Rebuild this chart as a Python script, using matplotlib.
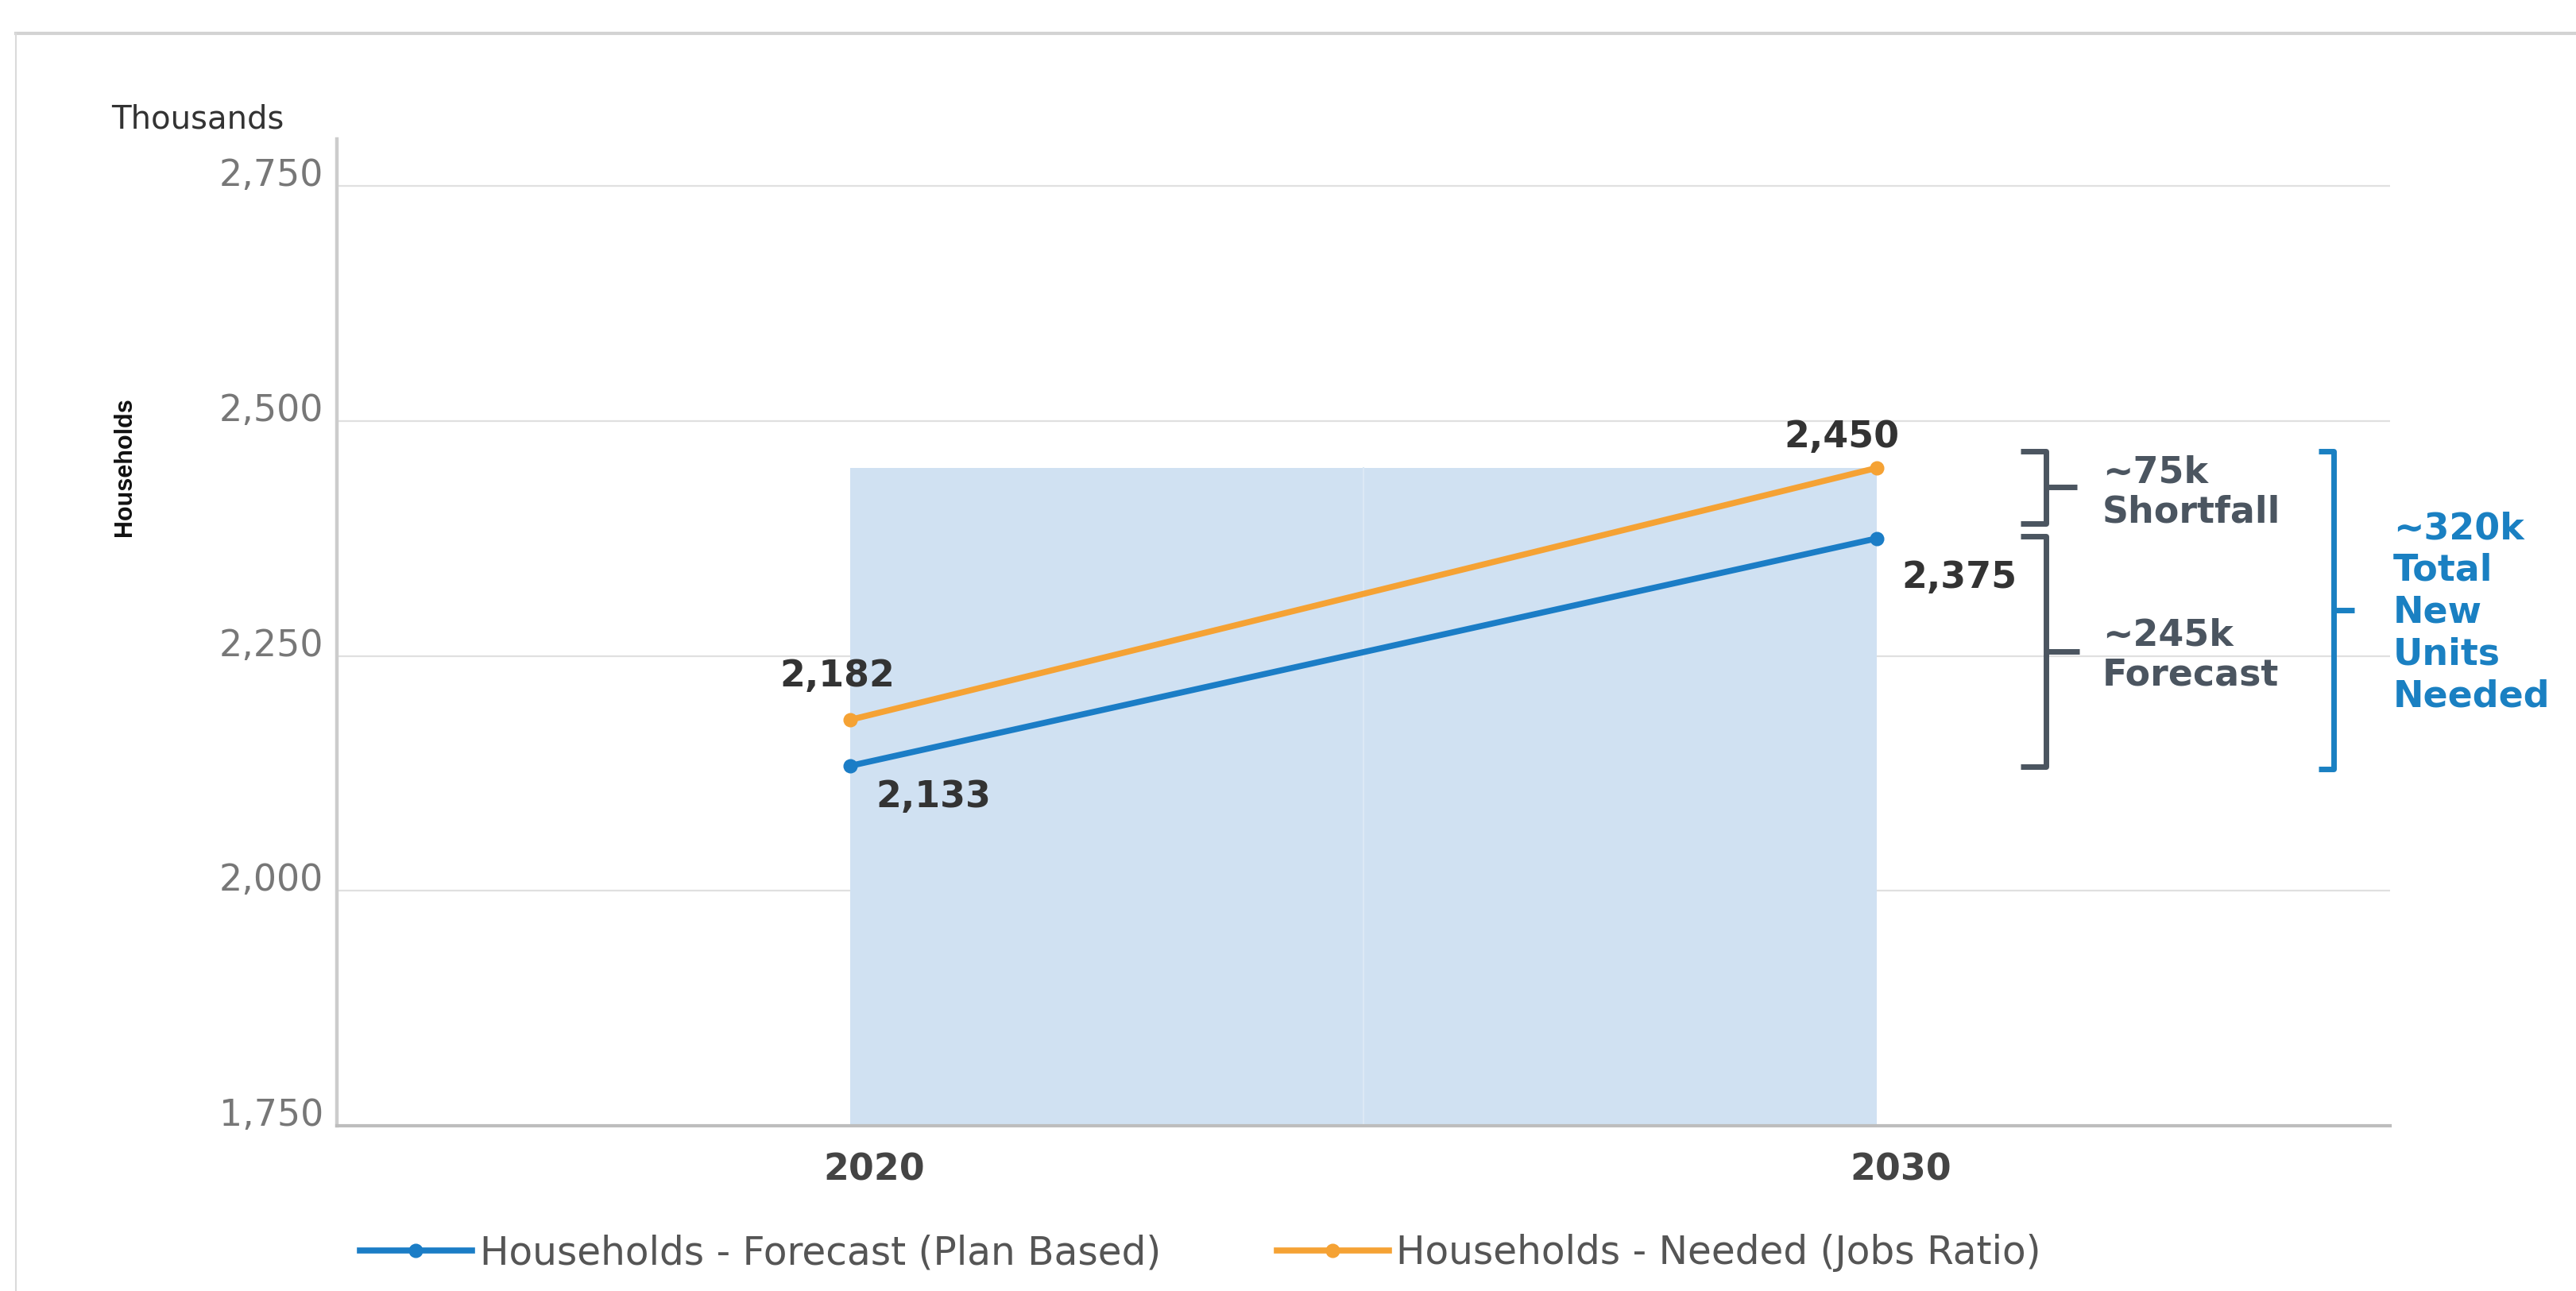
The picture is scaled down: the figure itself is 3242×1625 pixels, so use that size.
import matplotlib
matplotlib.use('Agg')
import matplotlib.pyplot as plt
from matplotlib.lines import Line2D
from matplotlib.transforms import ScaledTranslation

# data (thousands of households)
years = [2020, 2030]
forecast = [2133, 2375]
needed = [2182, 2450]
yticks = [1750, 2000, 2250, 2500, 2750]
series_names = ['Households - Forecast (Plan Based)', 'Households - Needed (Jobs Ratio)']
notes = ['~75k\nShortfall', '~245k\nForecast', '~320k\nTotal\nNew\nUnits\nNeeded']

BLUE = '#1b7dc6'
ORANGE = '#f5a234'
GREY = '#4b5560'
NOTE_BLUE = '#1a80c2'

plt.rcParams['font.family'] = 'DejaVu Sans'

W, H = 3242, 1625
fig = plt.figure(figsize=(W / 100, H / 100), dpi=100)
ax = fig.add_axes([424 / W, 1 - 1417 / H, (3008 - 424) / W, (1417 - 175) / H])
ax.set_xlim(2015, 2035)
ax.set_ylim(1750, 2800)

# shaded period between the two years, up to the needed value
ax.fill_between(years, 1750, needed[-1], color='#d0e1f2', lw=0, zorder=1)
mid_year = sum(years) / 2
ax.plot([mid_year, mid_year], [1750, needed[-1]], color='#dce8f5', lw=1.5, zorder=1.5)

h1, = ax.plot(years, forecast, color=BLUE, lw=5.5, marker='o', ms=12, zorder=4, label=series_names[0])
h2, = ax.plot(years, needed, color=ORANGE, lw=5.5, marker='o', ms=12, zorder=4, label=series_names[1])

# value labels
offsets_f = [(105, -52), (104, -62)]
offsets_n = [(-16, 42), (-44, 26)]
for x, y, (dx, dy) in zip(years, forecast, offsets_f):
    ax.annotate(f'{y:,}', (x, y), xytext=(dx, dy), textcoords='offset pixels',
                ha='center', va='baseline', fontsize=33, fontweight='bold', color='#333333')
for x, y, (dx, dy) in zip(years, needed, offsets_n):
    ax.annotate(f'{y:,}', (x, y), xytext=(dx, dy), textcoords='offset pixels',
                ha='center', va='baseline', fontsize=33, fontweight='bold', color='#333333')

# axes styling
ax.set_yticks(yticks)
ax.set_yticklabels([f'{v:,}' for v in yticks])
ax.set_xticks(years)
ax.set_xticklabels([str(y) for y in years])
ax.yaxis.grid(True, color='#e0e0e0', lw=1.6)
ax.set_axisbelow(True)
for s in ['top', 'right']:
    ax.spines[s].set_visible(False)
ax.spines['left'].set_color('#cccccc')
ax.spines['left'].set_linewidth(3.2)
ax.spines['bottom'].set_color('#bdbdbd')
ax.spines['bottom'].set_linewidth(3)
ax.tick_params(axis='y', length=0, pad=12, labelsize=33, labelcolor='#777777')
ax.tick_params(axis='x', length=0, pad=24, labelsize=33, labelcolor='#444444')
for lbl in ax.get_yticklabels():
    lbl.set_va('baseline')
shift = ScaledTranslation(0.30, 0, fig.dpi_scale_trans)
for lbl in ax.get_xticklabels():
    lbl.set_fontweight('bold')
    lbl.set_transform(lbl.get_transform() + shift)


def bracket(x, top, bottom, arm, tick, color):
    ax.plot([x - arm, x, x, x - arm], [top, top, bottom, bottom], color=color, lw=5,
            solid_joinstyle='round', solid_capstyle='butt', clip_on=False, zorder=5)
    mid = (top + bottom) / 2
    ax.plot([x, x + tick], [mid, mid], color=color, lw=5, solid_capstyle='butt',
            clip_on=False, zorder=5)
    return mid


m1 = bracket(2031.65, needed[-1] + 18, forecast[-1] + 16, 0.25, 0.3, GREY)
m2 = bracket(2031.65, forecast[-1] + 2, forecast[0] - 1, 0.25, 0.32, GREY)
m3 = bracket(2034.45, needed[-1] + 18, forecast[0] - 3, 0.15, 0.2, NOTE_BLUE)

ax.text(2032.2, m1 - 6, notes[0], ha='left', va='center', fontsize=33, fontweight='bold',
        color=GREY, linespacing=1.15, clip_on=False)
ax.text(2032.2, m2 - 4, notes[1], ha='left', va='center', fontsize=33, fontweight='bold',
        color=GREY, linespacing=1.15, clip_on=False)
ax.text(2035.03, m3 - 3, notes[2], ha='left', va='center', fontsize=33, fontweight='bold',
        color=NOTE_BLUE, linespacing=1.22, clip_on=False)

# titles around the axis
fig.text(140 / W, 1 - 162 / H, 'Thousands', ha='left', va='baseline', fontsize=29, color='#333333')
fig.text(157 / W, 1 - 588 / H, 'Households', rotation=90, ha='center', va='center',
         fontsize=22, fontweight='bold', color='#111111',
         family=['Liberation Sans', 'DejaVu Sans'])

fig.legend(handles=[h1, h2], loc='center left', bbox_to_anchor=(453 / W, 1 - 1577 / H),
           ncol=2, frameon=False, fontsize=35, labelcolor='#555555', handlelength=2.9,
           handletextpad=0.2, columnspacing=3.0, borderpad=0, borderaxespad=0)

# outer panel frame
fig.add_artist(Line2D([20 / W, 1], [1 - 42 / H, 1 - 42 / H], color='#d3d3d3', lw=3))
fig.add_artist(Line2D([20 / W, 20 / W], [0, 1 - 42 / H], color='#dadada', lw=1.5))

fig.savefig('out.png', dpi=100)
